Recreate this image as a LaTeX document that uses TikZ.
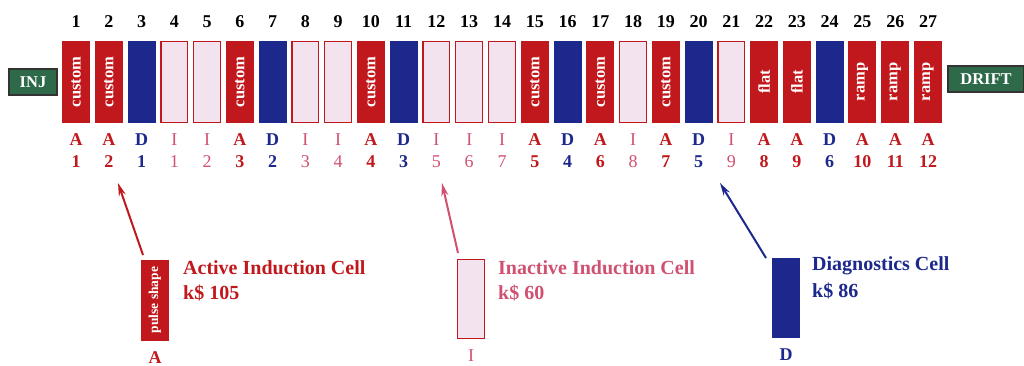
\documentclass[tikz,border=0pt]{standalone}
\usepackage{fontspec}
\setmainfont{Liberation Serif}
\usetikzlibrary{arrows.meta}
\definecolor{cred}{RGB}{192,24,28}
\definecolor{cblue}{RGB}{28,40,140}
\definecolor{cpink}{RGB}{208,80,112}
\definecolor{cpinkfill}{RGB}{243,227,238}
\definecolor{cgreen}{RGB}{46,106,74}
\tikzset{
  cellA/.style={fill=cred, draw=none, minimum width=28pt, minimum height=82pt, inner sep=0pt},
  cellD/.style={fill=cblue, draw=none, minimum width=28pt, minimum height=82pt, inner sep=0pt},
  cellI/.style={fill=cpinkfill, draw=cred, line width=1.2pt, minimum width=26.8pt, minimum height=80.8pt, inner sep=0pt},
  celltext/.style={text=white, font=\bfseries\fontsize{16.5}{16.5}\selectfont, rotate=90, inner sep=0pt},
  topnum/.style={font=\bfseries\fontsize{18}{18}\selectfont, text=black, inner sep=0pt},
  lettxtA/.style={font=\bfseries\fontsize{18}{18}\selectfont, text=cred, inner sep=0pt},
  lettxtD/.style={font=\bfseries\fontsize{18}{18}\selectfont, text=cblue, inner sep=0pt},
  lettxtI/.style={font=\fontsize{18}{18}\selectfont, text=cpink, inner sep=0pt},
  endbox/.style={fill=cgreen, draw=black!80, line width=1.2pt, text=white, font=\bfseries\fontsize{16.5}{16.5}\selectfont, inner sep=0pt, minimum height=26pt},
  legtext/.style={font=\bfseries\fontsize{20}{20}\selectfont, anchor=west, inner sep=0pt},
  pointer/.style={line width=2pt, -{Stealth[length=13pt, width=7pt]}},
}
\begin{document}
\begin{tikzpicture}[x=1pt,y=-1pt]
\useasboundingbox (0,0) rectangle (1024,366);
% end boxes
\node[endbox, minimum width=48pt] (inj) at (33,82) {INJ};
\node[endbox, minimum width=76pt] (drift) at (986,79) {DRIFT};
% cells
\foreach \i/\t/\lab/\n in {1/A/custom/1, 2/A/custom/2, 3/D//1, 4/I//1, 5/I//2, 6/A/custom/3, 7/D//2, 8/I//3, 9/I//4,
  10/A/custom/4, 11/D//3, 12/I//5, 13/I//6, 14/I//7, 15/A/custom/5, 16/D//4, 17/A/custom/6, 18/I//8, 19/A/custom/7,
  20/D//5, 21/I//9, 22/A/flat/8, 23/A/flat/9, 24/D//6, 25/A/ramp/10, 26/A/ramp/11, 27/A/ramp/12}{
  \pgfmathsetmacro{\cx}{76+(\i-1)*32.77}
  \node[cell\t] (cell\i) at (\cx,82) {};
  \node[celltext] (ctext\i) at (cell\i.center) {\lab};
  \node[topnum] (top\i) at (\cx,22) {\i};
  \node[lettxt\t] (let\i) at (\cx,140) {\t};
  \node[lettxt\t] (num\i) at (\cx,162) {\n};
}
% legend boxes
\node[cellA, minimum height=81pt] (legA) at (155,300) {};
\node[text=white, font=\bfseries\fontsize{13.5}{13.5}\selectfont, rotate=90, inner sep=0pt] (legAtext) at (legA.center) {pulse shape};
\node[lettxtA] (legAlet) at (155,358) {A};
\node[legtext, text=cred] (legAt1) at (183,268) {Active Induction Cell};
\node[legtext, text=cred] (legAt2) at (183,293) {k\$ 105};

\node[cellI, minimum height=78.8pt] (legI) at (471,299) {};
\node[lettxtI] (legIlet) at (471,356) {I};
\node[legtext, text=cpink] (legIt1) at (498,268) {Inactive Induction Cell};
\node[legtext, text=cpink] (legIt2) at (498,293) {k\$ 60};

\node[cellD, minimum height=80pt] (legD) at (786,298) {};
\node[lettxtD] (legDlet) at (786,355) {D};
\node[legtext, text=cblue] (legDt1) at (812,266) {Diagnostics Cell};
\node[legtext, text=cblue] (legDt2) at (812,291) {k\$ 86};

% pointers
\coordinate (tipA) at (118,183);
\coordinate (tipI) at (442,183);
\coordinate (tipD) at (720,183);
\coordinate (tailA) at (143,255);
\coordinate (tailI) at (458,253);
\coordinate (tailD) at (766,258);
\draw[pointer, draw=cred, fill=cred] (tailA) -- (tipA);
\draw[pointer, draw=cpink, fill=cpink] (tailI) -- (tipI);
\draw[pointer, draw=cblue, fill=cblue] (tailD) -- (tipD);
\end{tikzpicture}
\end{document}
